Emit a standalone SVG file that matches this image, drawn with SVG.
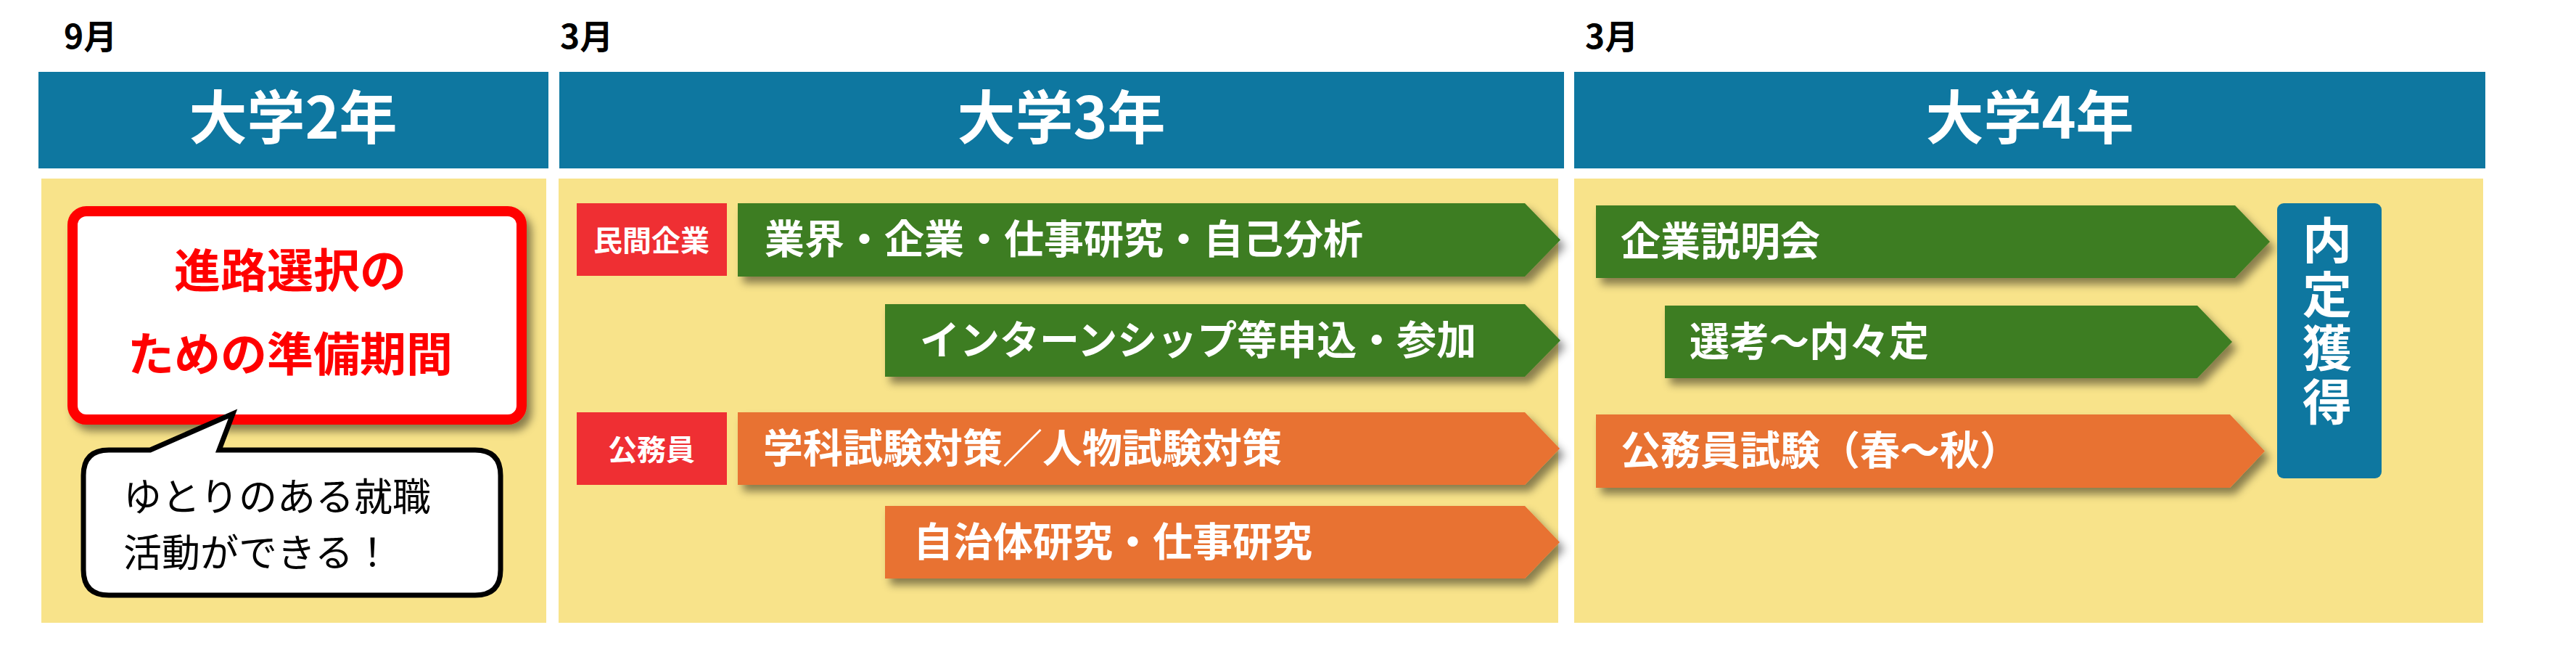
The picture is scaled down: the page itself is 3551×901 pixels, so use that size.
<svg xmlns="http://www.w3.org/2000/svg" width="3551" height="901" viewBox="0 0 3551 901">
<defs>
<filter id="sh" x="-10%" y="-20%" width="130%" height="160%">
<feDropShadow dx="7" dy="9" stdDeviation="6" flood-color="#000" flood-opacity="0.45"/>
</filter>
</defs>
<style>
text{font-family:"Noto Sans CJK JP","Noto Sans CJK SC",sans-serif;}
.mon{font-size:46px;font-weight:700;fill:#000;}
.hdr{fill:#0e77a0;}
.htx{font-size:80px;font-weight:700;fill:#fff;text-anchor:middle;}
.yel{fill:#f8e38a;}
.grn{fill:#3c7d24;filter:url(#sh);}
.org{fill:#e87232;filter:url(#sh);}
.lab{fill:#ef2f33;}
.ltx{font-size:40px;font-weight:700;fill:#fff;text-anchor:middle;}
.atx{font-size:55px;font-weight:700;fill:#fff;}
.rtx{font-size:64px;font-weight:700;fill:#ff0000;text-anchor:middle;}
.btx{font-size:53px;font-weight:400;fill:#000;}
.vtx{font-size:68px;font-weight:700;fill:#fff;writing-mode:vertical-rl;letter-spacing:6px;}
</style>
<rect width="3551" height="901" fill="#fff"/>

<g id="months">
<text class="mon" x="88" y="67">9月</text>
<text class="mon" x="772" y="67">3月</text>
<text class="mon" x="2185" y="67">3月</text>
</g>

<g id="year2">
<rect class="hdr" x="53" y="99" width="703" height="133"/>
<text class="htx" x="404" y="191">大学2年</text>
<rect class="yel" x="57" y="246" width="696" height="612"/>
</g>
<g id="year3">
<rect class="hdr" x="771" y="99" width="1385" height="133"/>
<text class="htx" x="1463" y="191">大学3年</text>
<rect class="yel" x="770" y="246" width="1378" height="612"/>
</g>
<g id="year4">
<rect class="hdr" x="2170" y="99" width="1256" height="133"/>
<text class="htx" x="2798" y="191">大学4年</text>
<rect class="yel" x="2170" y="246" width="1253" height="612"/>
</g>

<g id="prep">
<rect x="100" y="291" width="619" height="287" rx="19" fill="#fff" stroke="#ff0000" stroke-width="14" filter="url(#sh)"/>
<text class="rtx" x="400" y="396">進路選択の<tspan x="400" y="511">ための準備期間</tspan></text>
</g>

<g id="bubble">
<path d="M150,620 H207 L321,570 L302,620 H655 Q690,620 690,655 V785 Q690,820 655,820 H150 Q115,820 115,785 V655 Q115,620 150,620 Z" fill="#fff" stroke="#000" stroke-width="7" stroke-linejoin="miter"/>
<text class="btx" x="170" y="704">ゆとりのある就職<tspan x="170" y="781">活動ができる！</tspan></text>
</g>

<g id="label-private">
<rect class="lab" x="795" y="280" width="207" height="100"/>
<text class="ltx" x="898" y="346">民間企業</text>
</g>
<g id="label-public">
<rect class="lab" x="795" y="568" width="207" height="100"/>
<text class="ltx" x="898" y="634">公務員</text>
</g>

<g id="connectors">
<g id="arrow-research">
<path class="grn" d="M1017,280 H2102 L2151,330.5 L2102,381 H1017 Z"/>
<text class="atx" x="1054" y="349">業界・企業・仕事研究・自己分析</text>
</g>
<g id="arrow-intern">
<path class="grn" d="M1220,419 H2102 L2151,469 L2102,519 H1220 Z"/>
<text class="atx" x="1268" y="488">インターンシップ等申込・参加</text>
</g>
<g id="arrow-exam-prep">
<path class="org" d="M1017,568 H2102 L2150,618 L2102,668 H1017 Z"/>
<text class="atx" x="1052" y="637">学科試験対策／人物試験対策</text>
</g>
<g id="arrow-local">
<path class="org" d="M1220,697 H2102 L2150,747 L2102,797 H1220 Z"/>
<text class="atx" x="1259" y="766">自治体研究・仕事研究</text>
</g>
<g id="arrow-briefing">
<path class="grn" d="M2200,283 H3081 L3129,333 L3081,383 H2200 Z"/>
<text class="atx" x="2234" y="352">企業説明会</text>
</g>
<g id="arrow-selection">
<path class="grn" d="M2295,421 H3029 L3077,471 L3029,521 H2295 Z"/>
<text class="atx" x="2329" y="490">選考〜内々定</text>
</g>
<g id="arrow-civil-exam">
<path class="org" d="M2200,571 H3074 L3122,621.5 L3074,672 H2200 Z"/>
<text class="atx" x="2234" y="640">公務員試験（春〜秋）</text>
</g>
</g>

<g id="offer">
<rect class="hdr" x="3139" y="280" width="144" height="379" rx="9"/>
<text class="vtx" x="3208" y="297">内定獲得</text>
</g>
</svg>
